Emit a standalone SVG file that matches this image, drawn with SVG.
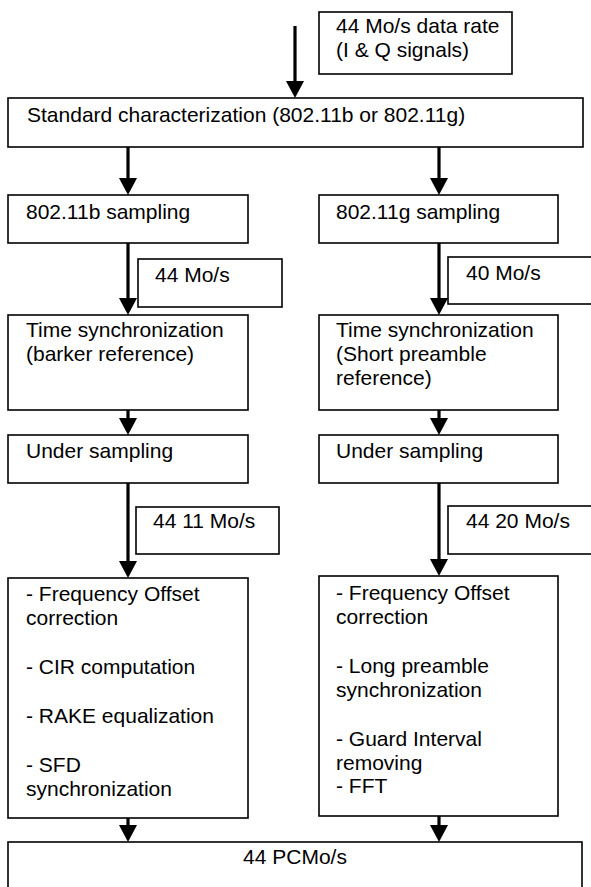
<svg xmlns="http://www.w3.org/2000/svg" width="591" height="887" viewBox="0 0 591 887">
<defs>
<style>
.box{fill:#fff;stroke:#000;stroke-width:1.6}
.t{font-family:"Liberation Sans",Arial,sans-serif;font-size:21px;fill:#000}
.c{stroke:#000;stroke-width:3.2;fill:none}
</style>
<marker id="ah" markerUnits="userSpaceOnUse" markerWidth="18" markerHeight="18" viewBox="0 0 17 18" refX="7" refY="9" orient="auto">
<path d="M0,0 L17,9 L0,18 z" fill="#000"/>
</marker>
</defs>
<rect width="591" height="887" fill="#fff"/>

<g id="n_input">
<rect class="box" x="319" y="12" width="193" height="62"/>
<text class="t" x="336" y="33">44 Mo/s data rate</text>
<text class="t" x="336" y="57">(I &amp; Q signals)</text>
</g>

<g id="n_standard">
<rect class="box" x="8" y="98" width="575" height="49"/>
<text class="t" x="27" y="122">Standard characterization (802.11b or 802.11g)</text>
</g>

<g id="n_b_sampling">
<rect class="box" x="8" y="195" width="240" height="48"/>
<text class="t" x="26" y="219">802.11b sampling</text>
</g>

<g id="n_g_sampling">
<rect class="box" x="319" y="195" width="239" height="48"/>
<text class="t" x="336" y="219">802.11g sampling</text>
</g>

<g id="n_rate_b1">
<rect class="box" x="138" y="259" width="144" height="48"/>
<text class="t" x="155" y="282">44 Mo/s</text>
</g>

<g id="n_rate_g1">
<rect class="box" x="448" y="257" width="150" height="47"/>
<text class="t" x="466" y="280">40 Mo/s</text>
</g>

<g id="n_b_timesync">
<rect class="box" x="8" y="315" width="240" height="95"/>
<text class="t" x="26" y="337">Time synchronization</text>
<text class="t" x="26" y="361">(barker reference)</text>
</g>

<g id="n_g_timesync">
<rect class="box" x="319" y="315" width="239" height="95"/>
<text class="t" x="336" y="337">Time synchronization</text>
<text class="t" x="336" y="361">(Short preamble</text>
<text class="t" x="336" y="385">reference)</text>
</g>

<g id="n_b_under">
<rect class="box" x="8" y="435" width="240" height="48"/>
<text class="t" x="26" y="458">Under sampling</text>
</g>

<g id="n_g_under">
<rect class="box" x="319" y="435" width="239" height="48"/>
<text class="t" x="336" y="458">Under sampling</text>
</g>

<g id="n_rate_b2">
<rect class="box" x="136" y="507" width="143" height="47"/>
<text class="t" x="153" y="528">44 11 Mo/s</text>
</g>

<g id="n_rate_g2">
<rect class="box" x="448" y="506" width="150" height="48"/>
<text class="t" x="466" y="528">44 20 Mo/s</text>
</g>

<g id="n_b_proc">
<rect class="box" x="8" y="578" width="240" height="240"/>
<text class="t" x="26" y="601">- Frequency Offset</text>
<text class="t" x="26" y="625">correction</text>
<text class="t" x="26" y="674">- CIR computation</text>
<text class="t" x="26" y="723">- RAKE equalization</text>
<text class="t" x="26" y="772">- SFD</text>
<text class="t" x="26" y="796">synchronization</text>
</g>

<g id="n_g_proc">
<rect class="box" x="319" y="576" width="239" height="240"/>
<text class="t" x="336" y="600">- Frequency Offset</text>
<text class="t" x="336" y="624">correction</text>
<text class="t" x="336" y="673">- Long preamble</text>
<text class="t" x="336" y="697">synchronization</text>
<text class="t" x="336" y="746">- Guard Interval</text>
<text class="t" x="336" y="770">removing</text>
<text class="t" x="336" y="793">- FFT</text>
</g>

<g id="n_output">
<rect class="box" x="8" y="842" width="574" height="60"/>
<text class="t" x="295" y="864" text-anchor="middle">44 PCMo/s</text>
</g>

<g id="connectors">
<line class="c" x1="295" y1="26" x2="295" y2="88" marker-end="url(#ah)"/>
<line class="c" x1="128" y1="147" x2="128" y2="185" marker-end="url(#ah)"/>
<line class="c" x1="439" y1="147" x2="439" y2="185" marker-end="url(#ah)"/>
<line class="c" x1="128" y1="243" x2="128" y2="305" marker-end="url(#ah)"/>
<line class="c" x1="439" y1="243" x2="439" y2="305" marker-end="url(#ah)"/>
<line class="c" x1="128" y1="410" x2="128" y2="425" marker-end="url(#ah)"/>
<line class="c" x1="439" y1="410" x2="439" y2="425" marker-end="url(#ah)"/>
<line class="c" x1="128" y1="483" x2="128" y2="568" marker-end="url(#ah)"/>
<line class="c" x1="439" y1="483" x2="439" y2="566" marker-end="url(#ah)"/>
<line class="c" x1="128" y1="818" x2="128" y2="832" marker-end="url(#ah)"/>
<line class="c" x1="439" y1="816" x2="439" y2="832" marker-end="url(#ah)"/>
</g>
</svg>
